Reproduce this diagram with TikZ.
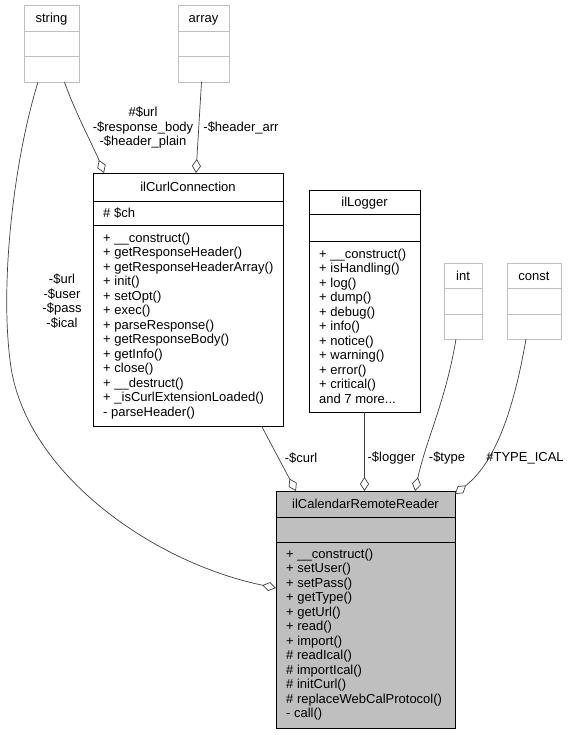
\documentclass[tikz,border=0pt]{standalone}
\usepackage{fontspec}
\setmainfont{Liberation Sans}
\usetikzlibrary{arrows.meta}
\definecolor{extgray}{HTML}{BFBFBF}
\definecolor{fillgray}{HTML}{BFBFBF}
\definecolor{edgecol}{HTML}{404040}
\begin{document}
\begin{tikzpicture}[x=1pt,y=-1pt,
  every node/.style={font=\fontsize{13}{14.5}\selectfont},
  cls/.style={draw=black, line width=0.9pt, inner sep=0pt, outer sep=0pt, anchor=north west},
  ext/.style={draw=extgray, line width=0.9pt, inner sep=0pt, outer sep=0pt, anchor=north west},
  sep/.style={draw=black, line width=0.9pt},
  extsep/.style={draw=extgray, line width=0.9pt},
  ttl/.style={anchor=base, inner sep=0pt},
  mem/.style={anchor=base west, inner sep=0pt},
  lbl/.style={anchor=center, align=center, inner sep=0pt},
  agg/.style={draw=edgecol, line width=0.7pt, -{Diamond[open, length=14pt, width=9pt]}},
]
\useasboundingbox (0,0) rectangle (571,735);

% ---------- external type boxes ----------
\node[ext, minimum width=55pt, minimum height=77pt] (string) at (24,5) {};
\draw[extsep] ([yshift=-26pt]string.north west) -- ([yshift=-26pt]string.north east);
\draw[extsep] ([yshift=-51pt]string.north west) -- ([yshift=-51pt]string.north east);
\node[ttl] (stringT) at (51.5,22.5) {string};

\node[ext, minimum width=51pt, minimum height=77pt] (array) at (178,5) {};
\draw[extsep] ([yshift=-26pt]array.north west) -- ([yshift=-26pt]array.north east);
\draw[extsep] ([yshift=-51pt]array.north west) -- ([yshift=-51pt]array.north east);
\node[ttl] (arrayT) at (203.5,22.5) {array};

\node[ext, minimum width=38pt, minimum height=76pt] (int) at (444,263) {};
\draw[extsep] ([yshift=-25pt]int.north west) -- ([yshift=-25pt]int.north east);
\draw[extsep] ([yshift=-51pt]int.north west) -- ([yshift=-51pt]int.north east);
\node[ttl] (intT) at (463,280) {int};

\node[ext, minimum width=54pt, minimum height=76pt] (const) at (507,263) {};
\draw[extsep] ([yshift=-25pt]const.north west) -- ([yshift=-25pt]const.north east);
\draw[extsep] ([yshift=-51pt]const.north west) -- ([yshift=-51pt]const.north east);
\node[ttl] (constT) at (534,280) {const};

% ---------- ilCurlConnection ----------
\node[cls, minimum width=190pt, minimum height=253pt] (curl) at (93,173) {};
\draw[sep] ([yshift=-28pt]curl.north west) -- ([yshift=-28pt]curl.north east);
\draw[sep] ([yshift=-52pt]curl.north west) -- ([yshift=-52pt]curl.north east);
\node[ttl] (curlT) at (188,191.5) {ilCurlConnection};
\node[mem] (curlA) at (103,217.5) {\# \$ch};
\foreach \t [count=\i from 0] in {%
  {+ \_\_construct()},
  {+ getResponseHeader()},
  {+ getResponseHeaderArray()},
  {+ init()},
  {+ setOpt()},
  {+ exec()},
  {+ parseResponse()},
  {+ getResponseBody()},
  {+ getInfo()},
  {+ close()},
  {+ \_\_destruct()},
  {+ \_isCurlExtensionLoaded()},
  {- parseHeader()}}
  \node[mem] (curlM\i) at (103,242+14.5*\i) {\t};

% ---------- ilLogger ----------
\node[cls, minimum width=111pt, minimum height=222pt] (logger) at (309,190) {};
\draw[sep] ([yshift=-24pt]logger.north west) -- ([yshift=-24pt]logger.north east);
\draw[sep] ([yshift=-51pt]logger.north west) -- ([yshift=-51pt]logger.north east);
\node[ttl] (loggerT) at (364.5,206.5) {ilLogger};
\foreach \t [count=\i from 0] in {%
  {+ \_\_construct()},
  {+ isHandling()},
  {+ log()},
  {+ dump()},
  {+ debug()},
  {+ info()},
  {+ notice()},
  {+ warning()},
  {+ error()},
  {+ critical()},
  {and 7 more{.}{.}{.}}}
  \node[mem] (loggerM\i) at (319,258+14.5*\i) {\t};

% ---------- ilCalendarRemoteReader ----------
\node[cls, fill=fillgray, minimum width=179pt, minimum height=237pt] (crr) at (276,491) {};
\draw[sep] ([yshift=-26pt]crr.north west) -- ([yshift=-26pt]crr.north east);
\draw[sep] ([yshift=-51pt]crr.north west) -- ([yshift=-51pt]crr.north east);
\node[ttl] (crrT) at (365.5,508.5) {ilCalendarRemoteReader};
\foreach \t [count=\i from 0] in {%
  {+ \_\_construct()},
  {+ setUser()},
  {+ setPass()},
  {+ getType()},
  {+ getUrl()},
  {+ read()},
  {+ import()},
  {\# readIcal()},
  {\# importIcal()},
  {\# initCurl()},
  {\# replaceWebCalProtocol()},
  {- call()}}
  \node[mem] (crrM\i) at (286,558+14.5*\i) {\t};

% ---------- connectors ----------
\draw[agg] ([xshift=-13.5pt]string.south) .. controls (14,160) and (0,280) .. (10,360)
           .. controls (22,470) and (150,562) .. ([yshift=-97pt]crr.north west);
\draw[agg] ([xshift=13pt]string.south) .. controls (74,110) and (95,150) .. ([xshift=11pt]curl.north west);
\draw[agg] ([xshift=-2pt]array.south) -- ([xshift=103pt]curl.north west);
\draw[agg] ([xshift=168.5pt]curl.south west) -- ([xshift=20pt]crr.north west);
\draw[agg] (logger.south) -- ([xshift=88.5pt]crr.north west);
\draw[agg] ([xshift=-7pt]int.south) .. controls (446,400) and (426,440) .. ([xshift=139pt]crr.north west);
\draw[agg] ([xshift=-8pt]const.south) .. controls (512,420) and (492,465) .. ([yshift=-3pt]crr.north east);

% ---------- labels ----------
\node[lbl] (lStrCrr) at (62,301) {-\$url\\-\$user\\-\$pass\\-\$ical};
\node[lbl] (lStrCurl) at (143,128) {\#\$url\\-\$response\_body\\-\$header\_plain};
\node[lbl] (lArr) at (241,128) {-\$header\_arr};
\node[lbl] (lCurl) at (301,458) {-\$curl};
\node[lbl] (lLog) at (391.5,458) {-\$logger};
\node[lbl] (lType) at (447,458) {-\$type};
\node[lbl] (lConst) at (525,458) {\#TYPE\_ICAL};
\end{tikzpicture}
\end{document}
